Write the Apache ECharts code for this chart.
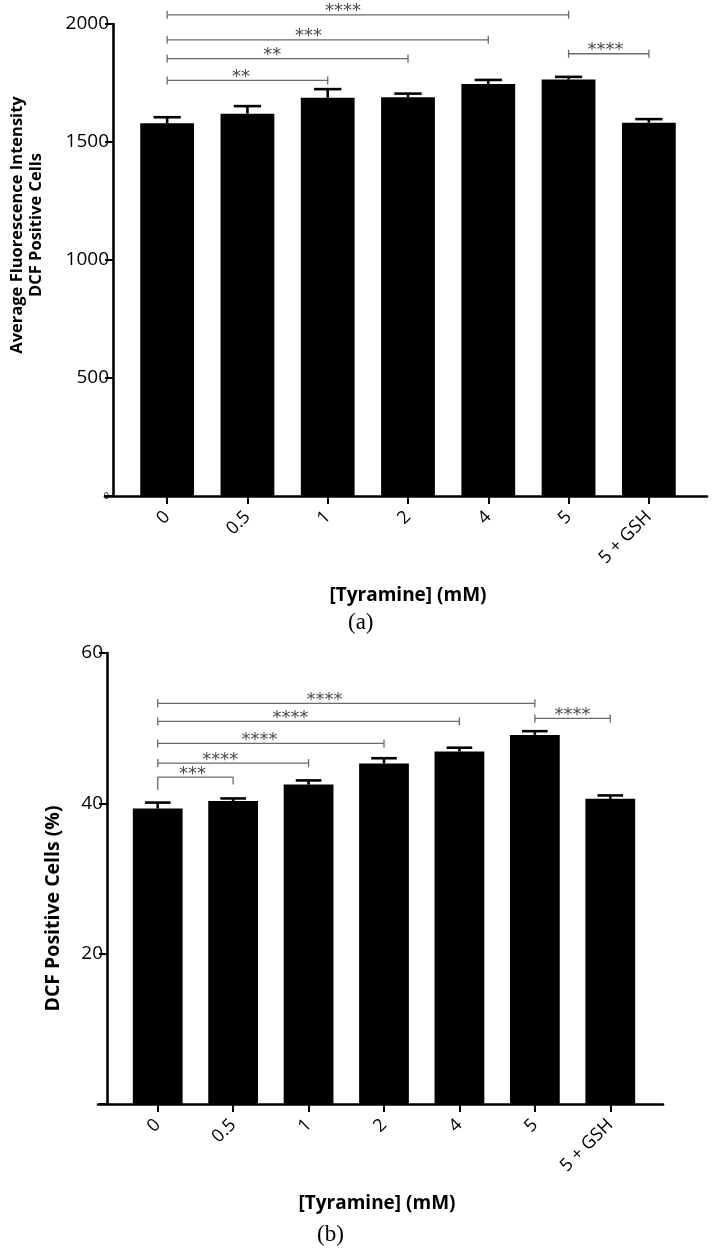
<!DOCTYPE html>
<html><head><meta charset="utf-8">
<script src="https://cdn.jsdelivr.net/npm/echarts@6/dist/echarts.min.js"></script>
<style>html,body{margin:0;padding:0;background:#fff}#c{width:723px;height:1256px}</style>
</head><body><div id="c"></div>
<script>
// ---------- data ----------
const categories = ['0', '0.5', '1', '2', '4', '5', '5 + GSH'];

// (a) Average fluorescence intensity of DCF positive cells
const intensityMean = [1579, 1620, 1688, 1690, 1746, 1765, 1582];
const intensityErr  = [26, 32, 36, 15, 17, 11, 15];
const intensityTicks = [0, 500, 1000, 1500, 2000];

// (b) DCF positive cells (%)
const positiveMean = [39.3, 40.3, 42.5, 45.3, 46.9, 49.1, 40.6];
const positiveErr  = [0.8, 0.35, 0.55, 0.7, 0.5, 0.5, 0.45];
const positiveTicks = [0, 20, 40, 60];

// significance comparisons (category indices, bracket level in data units)
const sigAFrom   = [0, 0, 0, 0, 5];
const sigATo     = [5, 4, 3, 2, 6];
const sigALevel  = [2039, 1933, 1853, 1761, 1874];
const sigAStars  = ['****', '***', '**', '**', '****'];
const sigALabelAt = [2.19, 1.76, 1.31, 0.92, 5.46];

const sigBFrom   = [0, 0, 0, 0, 0, 5];
const sigBTo     = [5, 4, 3, 2, 1, 6];
const sigBLevel  = [53.3, 50.9, 47.97, 45.36, 43.5, 51.3];
const sigBStars  = ['****', '****', '****', '****', '***', '****'];
const sigBLabelAt = [2.21, 1.76, 1.35, 0.83, 0.46, 5.5];
const sigBLegFrom = [null, null, null, null, 41.8, null];
const sigBLegTo   = [null, null, null, null, 42.5, null];

// ---------- rendering helpers ----------
const FONT = 'Open Sans';

function errRender(params, api) {
  const base = api.coord([api.value(0), api.value(1)]);
  const top = api.coord([api.value(0), api.value(1) + api.value(2)]);
  const half = api.size([1, 0])[0] * 0.17;
  const st = { stroke: '#000', lineWidth: 2.6 };
  return { type: 'group', children: [
    { type: 'line', shape: { x1: base[0], y1: base[1], x2: top[0], y2: top[1] }, style: st },
    { type: 'line', shape: { x1: top[0] - half, y1: top[1], x2: top[0] + half, y2: top[1] }, style: st }
  ]};
}

function makeBracketRender(from, to, level, stars, labelAt, legFrom, legTo) {
  return function (params, api) {
    const i = params.dataIndex;
    const band = api.size([1, 0])[0];
    const x0 = api.coord([0, 0])[0];
    const xa = x0 + from[i] * band;
    const xb = x0 + to[i] * band;
    const y = api.coord([0, level[i]])[1];
    const ls = { stroke: '#6a6a6a', lineWidth: 1.3 };
    const ch = [{ type: 'line', shape: { x1: xa, y1: y, x2: xb, y2: y }, style: ls }];
    if (legFrom && legFrom[i] != null) {
      const yl = api.coord([0, legFrom[i]])[1];
      const yr = api.coord([0, legTo[i]])[1];
      ch.push({ type: 'line', shape: { x1: xa, y1: y, x2: xa, y2: yl }, style: ls });
      ch.push({ type: 'line', shape: { x1: xb, y1: y, x2: xb, y2: yr }, style: ls });
    } else {
      ch.push({ type: 'line', shape: { x1: xa, y1: y - 4, x2: xa, y2: y + 4 }, style: ls });
      ch.push({ type: 'line', shape: { x1: xb, y1: y - 4, x2: xb, y2: y + 4 }, style: ls });
    }
    ch.push({ type: 'text', x: x0 + labelAt[i] * band, y: y + 6,
      style: { text: stars[i], fill: '#4a4a4a', font: '18px "DejaVu Sans"', align: 'center', verticalAlign: 'bottom' } });
    return { type: 'group', children: ch };
  };
}

function catAxis(gridIndex, namePad) {
  return {
    type: 'category', gridIndex: gridIndex, data: categories,
    axisLine: { show: false },
    axisTick: { show: true, alignWithLabel: true, length: 8, lineStyle: { color: '#000', width: 2 } },
    axisLabel: { rotate: 45, fontSize: 18, fontFamily: FONT, color: '#000', margin: 18 },
    name: '[Tyramine] (mM)', nameLocation: 'middle', nameGap: 90,
    nameTextStyle: { fontSize: 19, fontWeight: 'bold', fontFamily: FONT, color: '#000', padding: namePad }
  };
}

function baseAxis(gridIndex) {
  return { type: 'value', gridIndex: gridIndex, min: 0, max: 1,
    axisLine: { show: true, onZero: false, lineStyle: { color: '#000', width: 2.6 } },
    axisTick: { show: false }, axisLabel: { show: false }, splitLine: { show: false } };
}

const chart = echarts.init(document.getElementById('c'), null, { renderer: 'canvas' });

const option = {
  backgroundColor: '#fff',
  animation: false,
  grid: [
    { left: 127, right: 34, top: 24, bottom: 760 },   // (a) bars
    { left: 105, right: 16, top: 24, bottom: 760 },   // (a) baseline
    { left: 120, right: 75, top: 653, bottom: 152 },  // (b) bars
    { left: 98, right: 60, top: 653, bottom: 152 }    // (b) baseline
  ],
  xAxis: [
    catAxis(0, [0, 0, 0, 0]),
    baseAxis(1),
    catAxis(2, [0, 14, 0, 0]),
    baseAxis(3)
  ],
  yAxis: [
    { type: 'value', gridIndex: 0, min: intensityTicks[0], max: intensityTicks[intensityTicks.length - 1],
      interval: intensityTicks[1] - intensityTicks[0], offset: 14,
      axisLine: { show: true, lineStyle: { color: '#000', width: 2.6 } },
      axisTick: { show: true, length: 8, lineStyle: { color: '#000', width: 2 } },
      axisLabel: { fontSize: 19, fontFamily: FONT, color: '#000', margin: 4,
        formatter: v => v === 0 ? '{s|0}' : String(v), rich: { s: { fontSize: 9, fontFamily: FONT, color: '#000' } } },
      splitLine: { show: false },
      name: 'Average Fluorescence Intensity\nDCF Positive Cells', nameLocation: 'middle', nameGap: 67,
      nameTextStyle: { fontSize: 16.5, lineHeight: 19, fontWeight: 'bold', fontFamily: FONT, color: '#000', padding: [0, 0, 0, 70] } },
    { type: 'value', gridIndex: 1, show: false, min: 0, max: 1 },
    { type: 'value', gridIndex: 2, min: positiveTicks[0], max: positiveTicks[positiveTicks.length - 1],
      interval: positiveTicks[1] - positiveTicks[0], offset: 13,
      axisLine: { show: true, lineStyle: { color: '#000', width: 2.6 } },
      axisTick: { show: true, length: 8, lineStyle: { color: '#000', width: 2 } },
      axisLabel: { fontSize: 19, fontFamily: FONT, color: '#000', margin: 4, formatter: v => v === 0 ? '' : String(v) },
      splitLine: { show: false },
      name: 'DCF Positive Cells (%)', nameLocation: 'middle', nameGap: 44,
      nameTextStyle: { fontSize: 19.5, fontWeight: 'bold', fontFamily: FONT, color: '#000', padding: [0, 60, 0, 0] } },
    { type: 'value', gridIndex: 3, show: false, min: 0, max: 1 }
  ],
  graphic: [
    { type: 'text', left: 348, top: 611, style: { text: '(a)', font: '23px "Liberation Serif"', fill: '#000' } },
    { type: 'text', left: 317, top: 1223, style: { text: '(b)', font: '23px "Liberation Serif"', fill: '#000' } }
  ],
  series: [
    { type: 'bar', xAxisIndex: 0, yAxisIndex: 0, data: intensityMean, barWidth: '67%', itemStyle: { color: '#000' } },
    { type: 'custom', xAxisIndex: 0, yAxisIndex: 0, z: 3, renderItem: errRender,
      data: intensityMean.map((m, i) => [i, m, intensityErr[i]]), encode: { x: 0, y: 1 } },
    { type: 'custom', xAxisIndex: 0, yAxisIndex: 0, z: 4, clip: false,
      renderItem: makeBracketRender(sigAFrom, sigATo, sigALevel, sigAStars, sigALabelAt),
      data: sigAFrom.map((f, i) => [f, sigALevel[i]]), encode: { x: 0, y: 1 } },

    { type: 'bar', xAxisIndex: 2, yAxisIndex: 2, data: positiveMean, barWidth: '66%', itemStyle: { color: '#000' } },
    { type: 'custom', xAxisIndex: 2, yAxisIndex: 2, z: 3, renderItem: errRender,
      data: positiveMean.map((m, i) => [i, m, positiveErr[i]]), encode: { x: 0, y: 1 } },
    { type: 'custom', xAxisIndex: 2, yAxisIndex: 2, z: 4, clip: false,
      renderItem: makeBracketRender(sigBFrom, sigBTo, sigBLevel, sigBStars, sigBLabelAt, sigBLegFrom, sigBLegTo),
      data: sigBFrom.map((f, i) => [f, sigBLevel[i]]), encode: { x: 0, y: 1 } }
  ]
};
chart.setOption(option);
</script></body></html>
